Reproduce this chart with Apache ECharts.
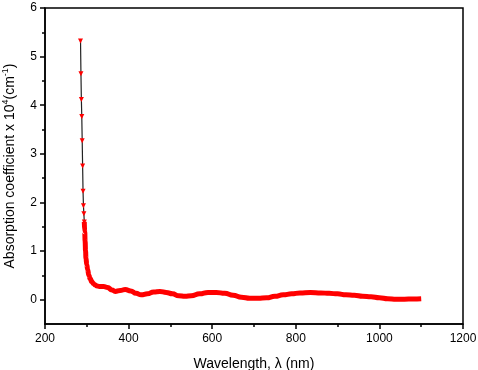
<!DOCTYPE html>
<html lang="en" style="height: 100%">
<head>
  <meta charset="utf-8" />
  <title>Absorption coefficient</title>
</head>
<body style="height: 100%; margin: 0; background: #fff">
  <div id="container" style="width: 478px; height: 370px"></div>

  <script src="https://cdn.jsdelivr.net/npm/echarts@6/dist/echarts.min.js"></script>

  <script>
    // steep absorption edge (sparse points, black line + red markers)
    const edgeWavelength = [285, 286, 287, 288, 289, 290, 291, 292, 293];
    const edgeAbsorption = [5.32, 4.65, 4.12, 3.77, 3.27, 2.75, 2.23, 1.93, 1.77];

    // rest of the spectrum (dense points, drawn as thick red band)
    const wavelength = [294, 295, 296, 297, 298, 300, 302, 305, 308, 312, 316, 320, 325, 330, 340, 350, 360, 368,
      380, 392, 405, 418, 430, 445, 460, 475, 490, 505, 520, 535, 550, 570, 590, 610, 630, 650, 670, 690, 710,
      730, 750, 770, 790, 810, 835, 860, 880, 900, 920, 940, 960, 980, 1000, 1020, 1040, 1060, 1080, 1100];
    const absorption = [1.60, 1.40, 1.20, 1.00, 0.85, 0.72, 0.62, 0.50, 0.43, 0.37, 0.33, 0.30, 0.28, 0.27, 0.27, 0.25, 0.20, 0.17,
      0.19, 0.21, 0.18, 0.13, 0.10, 0.12, 0.16, 0.17, 0.15, 0.12, 0.08, 0.07, 0.08, 0.12, 0.15, 0.15, 0.13, 0.09, 0.05, 0.03, 0.03,
      0.04, 0.07, 0.10, 0.12, 0.14, 0.15, 0.14, 0.13, 0.12, 0.10, 0.09, 0.07, 0.06, 0.04, 0.02, 0.01, 0.01, 0.015, 0.02];

    const yMajorTicks = [0, 1, 2, 3, 4, 5, 6];
    const yMinorTicks = [0.5, 1.5, 2.5, 3.5, 4.5, 5.5];

    const edgeData = [];
    for (let i = 0; i < edgeWavelength.length; i++) {
      edgeData.push([edgeWavelength[i], edgeAbsorption[i]]);
    }
    edgeData.push([wavelength[0], absorption[0]]);

    const bandData = [];
    for (let i = 0; i < wavelength.length; i++) {
      bandData.push([wavelength[i], absorption[i]]);
    }

    var dom = document.getElementById('container');
    var myChart = echarts.init(dom, null, { renderer: 'canvas' });

    const font = 'Liberation Sans, Arial, sans-serif';

    var option = {
      animation: false,
      textStyle: { fontFamily: font },
      grid: {
        left: 45, right: 15, top: 8, bottom: 46,
        outerBoundsMode: 'none',
        containLabel: false,
        show: true,
        borderColor: '#000',
        borderWidth: 1.5,
        backgroundColor: 'transparent'
      },
      xAxis: {
        type: 'value',
        min: 200,
        max: 1200,
        interval: 200,
        name: 'Wavelength, λ (nm)',
        nameLocation: 'middle',
        nameGap: 33,
        nameTextStyle: { fontSize: 14, color: '#000', fontFamily: font },
        axisLine: { onZero: false, lineStyle: { color: '#000', width: 1.5 } },
        axisTick: { length: 5, lineStyle: { color: '#000', width: 1.5 } },
        minorTick: { show: true, splitNumber: 2, length: 3, lineStyle: { color: '#000', width: 1.5 } },
        axisLabel: { fontSize: 12, color: '#000', margin: 9, formatter: function (v) { return String(v); } },
        splitLine: { show: false }
      },
      yAxis: [
        {
          type: 'value',
          min: -0.5,
          max: 6,
          name: 'Absorption coefficient x 10{sup|4}(cm{sup|-1})',
          nameLocation: 'middle',
          nameGap: 24,
          nameTextStyle: {
            fontSize: 14, color: '#000', fontFamily: font, lineHeight: 18,
            rich: { sup: { fontSize: 9, verticalAlign: 'top', lineHeight: 18, color: '#000', fontFamily: font } }
          },
          axisLine: { onZero: false, lineStyle: { color: '#000', width: 1.5 } },
          axisTick: { customValues: yMajorTicks, length: 5, lineStyle: { color: '#000', width: 1.5 } },
          axisLabel: { customValues: yMajorTicks, fontSize: 12, color: '#000', margin: 8 },
          splitLine: { show: false }
        },
        {
          type: 'value',
          min: -0.5,
          max: 6,
          position: 'left',
          axisLine: { show: false, onZero: false },
          axisTick: { customValues: yMinorTicks, length: 3, lineStyle: { color: '#000', width: 1.5 } },
          axisLabel: { show: false },
          splitLine: { show: false }
        }
      ],
      series: [
        {
          type: 'line',
          data: bandData,
          smooth: true,
          smoothMonotone: 'x',
          showSymbol: false,
          lineStyle: { color: '#ff0000', width: 5 },
          z: 2
        },
        {
          type: 'line',
          data: edgeData,
          symbol: 'triangle',
          symbolRotate: 180,
          symbolSize: 5,
          itemStyle: { color: '#ff0000' },
          lineStyle: { color: '#222', width: 1.2 },
          z: 3
        }
      ]
    };

    myChart.setOption(option);

    window.onresize = function() {
      myChart.resize();
    };
  </script>
</body>
</html>
